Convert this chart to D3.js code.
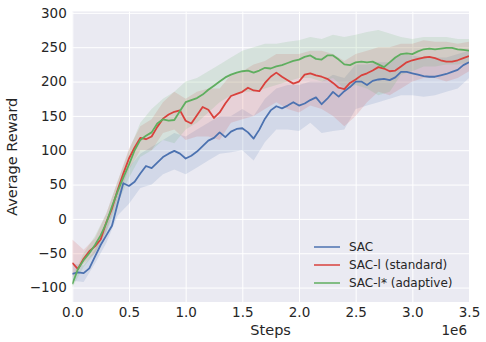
<!DOCTYPE html>
<html>
<head>
<meta charset="utf-8">
<script src="https://cdn.jsdelivr.net/npm/d3@7"></script>
<style>
  body { margin: 0; background: #fff; }
  text { font-family: "DejaVu Sans", sans-serif; fill: #262626; }
</style>
</head>
<body>
<svg id="chart" width="486" height="342"></svg>
<script>
// mean curves, one value every 0.05e6 steps
const steps = d3.range(71).map(i => i * 5e4);
const sac = [-80, -78, -79, -72, -55, -38, -24, -10, 22, 52, 48, 54, 66, 77, 74, 82, 90, 95, 99, 95,
  88, 92, 98, 106, 114, 118, 126, 119, 127, 131, 132, 126, 117, 130, 146, 158, 164, 161, 165, 170,
  165, 168, 173, 177, 167, 175, 185, 178, 186, 192, 200, 200, 195, 201, 203, 204, 202, 206, 214, 214,
  212, 210, 208, 207, 207, 209, 211, 214, 217, 224, 228];
const sacStd = [-64, -73, -58, -47, -40, -30, -5, 15, 42, 66, 88, 104, 118, 116, 120, 134, 146, 152, 156, 158,
  143, 139, 151, 163, 159, 147, 155, 168, 179, 182, 185, 191, 187, 186, 198, 207, 213, 207, 202, 197,
  200, 210, 212, 209, 207, 204, 198, 191, 189, 198, 203, 209, 212, 216, 221, 219, 215, 216, 222, 228,
  231, 233, 235, 236, 234, 231, 229, 229, 231, 234, 237];
const sacAda = [-95, -73, -60, -50, -38, -24, -6, 18, 40, 60, 79, 100, 115, 121, 126, 139, 145, 143, 144, 157,
  170, 173, 176, 181, 188, 194, 200, 206, 210, 213, 215, 216, 213, 216, 220, 219, 222, 224, 227, 230,
  232, 236, 238, 233, 232, 238, 238, 232, 225, 224, 228, 229, 228, 229, 225, 221, 228, 235, 240, 241,
  240, 244, 247, 248, 247, 248, 249, 249, 247, 246, 245];

// spread bands, one value every 0.1e6 steps
const bandSteps = d3.range(36).map(i => i * 1e5);
const sacLo = [-90, -92, -65, -35, 5, 22, 45, 50, 65, 72, 65, 75, 85, 95, 97, 100, 85, 112, 130, 130,
  128, 140, 125, 128, 130, 160, 165, 170, 175, 180, 180, 178, 180, 185, 190, 205];
const sacHi = [-65, -68, -45, -10, 40, 75, 95, 105, 115, 125, 120, 130, 140, 150, 150, 160, 150, 175, 190, 195,
  195, 200, 200, 210, 205, 225, 225, 228, 228, 240, 238, 235, 235, 235, 240, 245];
const stdLo = [-85, -65, -50, -18, 30, 72, 100, 100, 125, 130, 115, 120, 120, 115, 140, 145, 150, 160, 170, 160,
  155, 165, 160, 150, 135, 150, 170, 185, 180, 190, 200, 205, 205, 200, 205, 215];
const stdHi = [-30, -45, -28, 8, 55, 102, 135, 145, 170, 185, 175, 185, 190, 190, 210, 215, 225, 230, 240, 240,
  240, 245, 245, 240, 230, 240, 245, 250, 250, 255, 255, 260, 258, 258, 255, 258];
const adaLo = [-100, -70, -50, -20, 22, 60, 90, 100, 115, 110, 130, 140, 155, 170, 180, 185, 185, 190, 195, 200,
  205, 205, 200, 205, 190, 195, 190, 180, 185, 210, 215, 222, 222, 225, 225, 228];
const adaHi = [-85, -50, -25, 8, 55, 100, 140, 160, 175, 185, 200, 205, 215, 225, 235, 245, 250, 255, 255, 258,
  260, 265, 262, 268, 265, 268, 272, 275, 270, 265, 262, 265, 265, 265, 262, 262];

const labels = ["SAC", "SAC-l (standard)", "SAC-l* (adaptive)"];
const colors = ["#4c72b0", "#d9413c", "#5fae5f"];
const means = [sac, sacStd, sacAda];
const lows = [sacLo, stdLo, adaLo];
const highs = [sacHi, stdHi, adaHi];
const xTicks = [0, 5e5, 1e6, 1.5e6, 2e6, 2.5e6, 3e6, 3.5e6];
const yTicks = [-100, -50, 0, 50, 100, 150, 200, 250, 300];

const svg = d3.select("#chart");
const mLeft = 72.3, mRight = 469, mTop = 11.5, mBottom = 302;
const x = d3.scaleLinear().domain([0, 3.5e6]).range([mLeft, mRight]);
const y = d3.scaleLinear().domain([-121, 302]).range([mBottom, mTop]);

svg.append("rect")
  .attr("x", mLeft).attr("y", mTop)
  .attr("width", mRight - mLeft).attr("height", mBottom - mTop)
  .attr("fill", "#eaeaf2");

svg.append("clipPath").attr("id", "clip")
  .append("rect")
  .attr("x", mLeft).attr("y", mTop)
  .attr("width", mRight - mLeft).attr("height", mBottom - mTop);

// grid + tick labels
const xAxis = svg.append("g")
  .attr("transform", `translate(0,${mBottom})`)
  .call(d3.axisBottom(x).tickValues(xTicks).tickSize(-(mBottom - mTop)).tickPadding(5)
    .tickFormat(d => (d / 1e6).toFixed(1)));
const yAxis = svg.append("g")
  .attr("transform", `translate(${mLeft},0)`)
  .call(d3.axisLeft(y).tickValues(yTicks).tickSize(-(mRight - mLeft)).tickPadding(5.5));
[xAxis, yAxis].forEach(g => {
  g.select(".domain").remove();
  g.selectAll("line").attr("stroke", "#fff").attr("stroke-width", 1);
  g.selectAll("text").style("font-size", "13.5px").attr("fill", "#262626");
});

const plot = svg.append("g").attr("clip-path", "url(#clip)");

means.forEach((m, i) => {
  const band = d3.area()
    .x((d, j) => x(bandSteps[j]))
    .y0((d, j) => y(lows[i][j]))
    .y1((d, j) => y(highs[i][j]));
  plot.append("path")
    .datum(lows[i])
    .attr("d", band)
    .attr("fill", colors[i])
    .attr("fill-opacity", 0.15);
});

means.forEach((m, i) => {
  const line = d3.line()
    .x((d, j) => x(steps[j]))
    .y(d => y(d));
  plot.append("path")
    .datum(m)
    .attr("d", line)
    .attr("fill", "none")
    .attr("stroke", colors[i])
    .attr("stroke-width", 1.8)
    .attr("stroke-linejoin", "round");
});

// axis titles
svg.append("text")
  .attr("x", (mLeft + mRight) / 2).attr("y", 335)
  .attr("text-anchor", "middle")
  .style("font-size", "14.5px")
  .text("Steps");
svg.append("text")
  .attr("x", 467).attr("y", 335)
  .attr("text-anchor", "end")
  .style("font-size", "13.5px")
  .text("1e6");
svg.append("text")
  .attr("transform", `translate(17,${(mTop + mBottom) / 2}) rotate(-90)`)
  .attr("text-anchor", "middle")
  .style("font-size", "14.5px")
  .text("Average Reward");

// legend
const legend = svg.append("g");
labels.forEach((lab, i) => {
  const ly = 247 + i * 18;
  legend.append("line")
    .attr("x1", 314).attr("x2", 340)
    .attr("y1", ly).attr("y2", ly)
    .attr("stroke", colors[i]).attr("stroke-width", 1.5);
  legend.append("text")
    .attr("x", 349).attr("y", ly)
    .attr("dy", "0.35em")
    .style("font-size", "12px")
    .text(lab);
});
</script>
</body>
</html>
